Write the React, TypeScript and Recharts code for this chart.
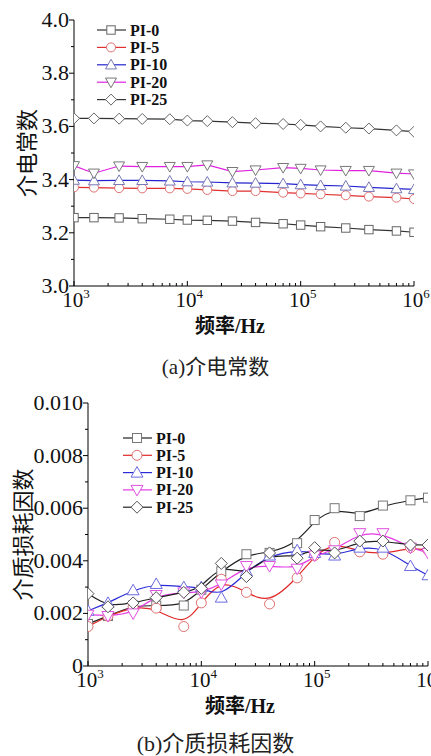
import React from "react";
import { LineChart, Line, XAxis, YAxis } from "recharts";

// measurement frequencies (Hz)
const FREQ = [1000, 1500, 2500, 4000, 7000, 10000, 15000, 25000, 40000, 70000, 100000, 150000, 250000, 400000, 700000, 1000000];

// (a) dielectric constant
const EPS_PI0 = [3.257, 3.257, 3.256, 3.253, 3.251, 3.248, 3.247, 3.244, 3.239, 3.234, 3.229, 3.223, 3.218, 3.212, 3.207, 3.202];
const EPS_PI5 = [3.371, 3.37, 3.368, 3.367, 3.367, 3.365, 3.361, 3.357, 3.357, 3.351, 3.348, 3.345, 3.341, 3.336, 3.332, 3.327];
const EPS_PI10 = [3.398, 3.396, 3.397, 3.397, 3.395, 3.392, 3.391, 3.388, 3.387, 3.385, 3.381, 3.378, 3.376, 3.371, 3.366, 3.363];
const EPS_PI20 = [3.452, 3.424, 3.451, 3.449, 3.449, 3.449, 3.455, 3.43, 3.436, 3.445, 3.442, 3.436, 3.434, 3.434, 3.424, 3.421];
const EPS_PI25 = [3.63, 3.63, 3.629, 3.628, 3.627, 3.622, 3.62, 3.616, 3.612, 3.609, 3.606, 3.6, 3.595, 3.592, 3.585, 3.58];

// (b) dielectric loss factor
const TAN_PI0 = [0.0016, 0.0019, 0.0023, 0.0023, 0.0023, 0.0029, 0.0036, 0.00425, 0.0043, 0.00467, 0.00555, 0.006, 0.0057, 0.0061, 0.0063, 0.0064];
const TAN_PI5 = [0.0015, 0.0019, 0.00225, 0.0022, 0.0015, 0.0024, 0.0033, 0.0028, 0.00236, 0.00335, 0.0042, 0.0047, 0.00434, 0.00425, 0.0045, 0.0044];
const TAN_PI10 = [0.0021, 0.0024, 0.00288, 0.00312, 0.003, 0.003, 0.0026, 0.0036, 0.0042, 0.0044, 0.0043, 0.0042, 0.0045, 0.0045, 0.0038, 0.00345];
const TAN_PI20 = [0.00195, 0.0019, 0.002, 0.0027, 0.0028, 0.0028, 0.0031, 0.0038, 0.0038, 0.0037, 0.0042, 0.0044, 0.00505, 0.00505, 0.0045, 0.0043];
const TAN_PI25 = [0.00275, 0.00225, 0.0024, 0.0026, 0.0028, 0.00295, 0.0039, 0.0034, 0.0043, 0.0041, 0.0045, 0.0043, 0.00475, 0.00475, 0.0046, 0.0046];

const SERIES = ["PI-0", "PI-5", "PI-10", "PI-20", "PI-25"];
const SHAPES = ["square", "circle", "up", "down", "diamond"];

// axis ticks
const X_MAJOR = [1000, 10000, 100000, 1000000];
const X_EXP = ["3", "4", "5", "6"];
const X_MINOR = [2000, 3000, 4000, 5000, 6000, 7000, 8000, 9000, 20000, 30000, 40000, 50000, 60000, 70000, 80000, 90000, 200000, 300000, 400000, 500000, 600000, 700000, 800000, 900000];
const EPS_MAJOR = [3.0, 3.2, 3.4, 3.6, 3.8, 4.0];
const EPS_MINOR = [3.1, 3.3, 3.5, 3.7, 3.9];
const TAN_MAJOR = [0, 0.002, 0.004, 0.006, 0.008, 0.01];
const TAN_MINOR = [0.001, 0.003, 0.005, 0.007, 0.009];

const SERIF = "'Liberation Serif', 'Times New Roman', serif";
const CJK = "'Liberation Serif', 'Noto Sans CJK SC', sans-serif";

const KEYS = ["s0", "s1", "s2", "s3", "s4"];
const epsData = FREQ.map((f, i) => ({ f, s0: EPS_PI0[i], s1: EPS_PI5[i], s2: EPS_PI10[i], s3: EPS_PI20[i], s4: EPS_PI25[i] }));
const tanData = FREQ.map((f, i) => ({ f, s0: TAN_PI0[i], s1: TAN_PI5[i], s2: TAN_PI10[i], s3: TAN_PI20[i], s4: TAN_PI25[i] }));

type Style = { line: string; mark: string; size: number };

const EPS_STYLE: Style[] = [
  { line: "#333", mark: "#666", size: 4.2 },
  { line: "#e03030", mark: "#e07070", size: 4.5 },
  { line: "#2424d0", mark: "#7878b8", size: 5.5 },
  { line: "#e020e0", mark: "#777", size: 5.5 },
  { line: "#333", mark: "#666", size: 5.5 },
];
const TAN_STYLE: Style[] = [
  { line: "#222", mark: "#777", size: 4.5 },
  { line: "#e02828", mark: "#e07070", size: 5 },
  { line: "#2a2ad8", mark: "#6a6ae0", size: 6 },
  { line: "#e23ae2", mark: "#e050e0", size: 6 },
  { line: "#222", mark: "#555", size: 6 },
];

function Marker({ cx, cy, shape, stroke, r }: { cx: number; cy: number; shape: string; stroke: string; r: number }) {
  const p = { fill: "#fff", stroke, strokeWidth: 1 };
  if (shape === "square") return <rect x={cx - r} y={cy - r} width={2 * r} height={2 * r} {...p} />;
  if (shape === "circle") return <circle cx={cx} cy={cy} r={r} {...p} />;
  if (shape === "up") return <polygon points={`${cx},${cy - r} ${cx + r},${cy + r * 0.75} ${cx - r},${cy + r * 0.75}`} {...p} />;
  if (shape === "down") return <polygon points={`${cx},${cy + r} ${cx + r},${cy - r * 0.75} ${cx - r},${cy - r * 0.75}`} {...p} />;
  return <polygon points={`${cx},${cy - r} ${cx + r},${cy} ${cx},${cy + r} ${cx - r},${cy}`} {...p} />;
}

function XTick(props: any) {
  const { x, y, payload } = props;
  const idx = X_MAJOR.indexOf(payload.value);
  if (idx < 0) return <line x1={x} x2={x} y1={y} y2={y - 3} stroke="#000" />;
  return (
    <g>
      <line x1={x} x2={x} y1={y} y2={y - 5} stroke="#000" />
      <text x={x + 2} y={y + 21} textAnchor="middle" fontFamily={SERIF} fontSize={21} fill="#111">
        10
        <tspan dy={-9} fontSize={13}>{X_EXP[idx]}</tspan>
      </text>
    </g>
  );
}

function makeYTick(major: number[], fmt: (v: number) => string) {
  return function YTick(props: any) {
    const { x, y, payload } = props;
    const isMajor = major.some((m) => Math.abs(m - payload.value) < 1e-9);
    if (!isMajor) return <line x1={x - 3} x2={x} y1={y} y2={y} stroke="#000" />;
    return (
      <g>
        <line x1={x - 5} x2={x} y1={y} y2={y} stroke="#000" />
        <text x={x - 5} y={y + 7} textAnchor="end" fontFamily={SERIF} fontSize={22} fill="#111">
          {fmt(payload.value)}
        </text>
      </g>
    );
  };
}

function LegendBox({ styles, left, top, gap }: { styles: Style[]; left: number; top: number; gap: number }) {
  return (
    <svg width={110} height={100} style={{ position: "absolute", left, top }}>
      {SERIES.map((name, i) => {
        const y = 10 + i * gap;
        return (
          <g key={name}>
            <line x1={2} x2={31} y1={y} y2={y} stroke={styles[i].line} strokeWidth={1.2} />
            <Marker cx={16} cy={y} shape={SHAPES[i]} stroke={styles[i].mark} r={styles[i].size} />
            <text x={35} y={y + 5.5} fontFamily={SERIF} fontSize={16} fontWeight="bold" fill="#111">
              {name}
            </text>
          </g>
        );
      })}
    </svg>
  );
}

type PanelProps = {
  data: any[];
  styles: Style[];
  curve: "linear" | "basis";
  yDomain: [number, number];
  yTicks: number[];
  yTick: any;
  yWidth: number;
  right: number;
  height: number;
  yLabel: string;
  yLabelX: number;
  xLabelX: number;
};

function Panel(p: PanelProps) {
  return (
    <LineChart width={431} height={p.height} data={p.data} margin={{ top: 20, right: p.right, left: 0, bottom: 0 }}>
      <XAxis
        dataKey="f"
        type="number"
        scale="log"
        domain={[1000, 1000000]}
        ticks={[...X_MAJOR, ...X_MINOR].sort((a, b) => a - b)}
        interval={0}
        tick={<XTick />}
        tickLine={false}
        tickSize={0}
        tickMargin={0}
        height={54}
        axisLine={{ stroke: "#000" }}
        allowDataOverflow
        label={{
          content: (lp: any) => (
            <text
              x={p.xLabelX}
              y={lp.viewBox.y + 47}
              textAnchor="middle"
              fontFamily={CJK}
              fontSize={20}
              fontWeight="bold"
              fill="#111"
            >
              频率/Hz
            </text>
          ),
        }}
      />
      <YAxis
        type="number"
        domain={p.yDomain}
        ticks={p.yTicks}
        interval={0}
        tick={p.yTick}
        tickLine={false}
        tickSize={0}
        tickMargin={0}
        width={p.yWidth}
        axisLine={{ stroke: "#000" }}
        allowDataOverflow
        label={{
          content: (lp: any) => {
            const cy = lp.viewBox.y + lp.viewBox.height / 2;
            return (
              <text
                x={p.yLabelX}
                y={cy}
                textAnchor="middle"
                dominantBaseline="central"
                transform={`rotate(-90 ${p.yLabelX} ${cy})`}
                fontFamily="'Noto Sans CJK SC', sans-serif"
                fontSize={22}
                fill="#111"
              >
                {p.yLabel}
              </text>
            );
          },
        }}
      />
      {KEYS.map((k, i) => (
        <Line
          key={k}
          dataKey={k}
          type={p.curve}
          stroke={p.styles[i].line}
          strokeWidth={1.2}
          isAnimationActive={false}
          dot={(d: any) => (
            <Marker key={`${k}-${d.index}`} cx={d.cx} cy={d.cy} shape={SHAPES[i]} stroke={p.styles[i].mark} r={p.styles[i].size} />
          )}
          activeDot={false}
        />
      ))}
    </LineChart>
  );
}

export default function App() {
  const captionStyle: React.CSSProperties = {
    position: "absolute",
    left: 0,
    width: 431,
    textAlign: "center",
    fontFamily: CJK,
    color: "#222",
    lineHeight: "24px",
  };
  return (
    <div style={{ position: "absolute", left: 0, top: 0, width: 431, height: 756, background: "#fff", overflow: "hidden" }}>
      <div style={{ position: "absolute", left: 0, top: 0 }}>
        <Panel
          data={epsData}
          styles={EPS_STYLE}
          curve="linear"
          yDomain={[3.0, 4.0]}
          yTicks={[...EPS_MAJOR, ...EPS_MINOR].sort((a, b) => a - b)}
          yTick={makeYTick(EPS_MAJOR, (v) => v.toFixed(1))}
          yWidth={74}
          right={17}
          height={340}
          yLabel="介电常数"
          yLabelX={25}
          xLabelX={230}
        />
        <LegendBox styles={EPS_STYLE} left={95} top={20} gap={17.4} />
      </div>
      <div style={{ ...captionStyle, top: 355, fontSize: 21 }}>(a)介电常数</div>
      <div style={{ position: "absolute", left: 0, top: 383 }}>
        <Panel
          data={tanData}
          styles={TAN_STYLE}
          curve="basis"
          yDomain={[0, 0.01]}
          yTicks={[...TAN_MAJOR, ...TAN_MINOR].sort((a, b) => a - b)}
          yTick={makeYTick(TAN_MAJOR, (v) => (v === 0 ? "0" : v.toFixed(3)))}
          yWidth={88}
          right={3}
          height={337}
          yLabel="介质损耗因数"
          yLabelX={21}
          xLabelX={240}
        />
        <LegendBox styles={TAN_STYLE} left={121} top={45} gap={17.3} />
      </div>
      <div style={{ ...captionStyle, top: 732, fontSize: 22 }}>(b)介质损耗因数</div>
    </div>
  );
}
